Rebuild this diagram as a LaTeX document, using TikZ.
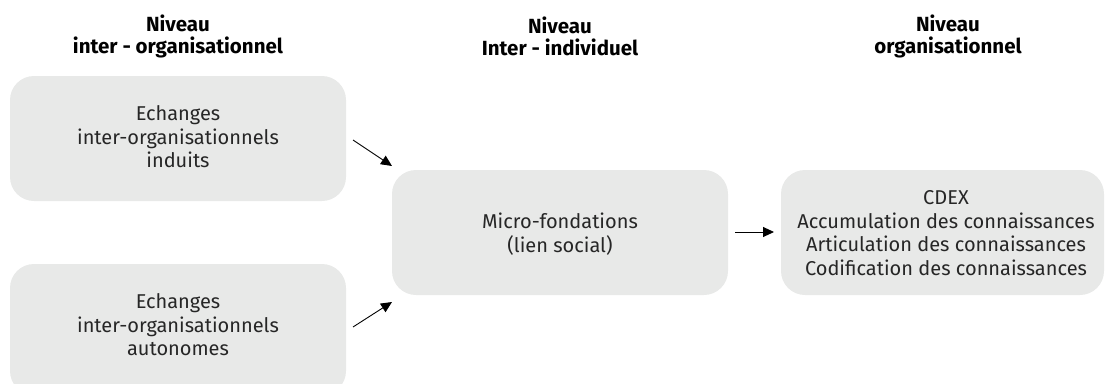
\documentclass[tikz,border=0pt]{standalone}
\usepackage{fontspec}
\setmainfont{Fira Sans}
\usetikzlibrary{arrows.meta}
\begin{document}
\begin{tikzpicture}[x=1pt,y=-1pt,
  box/.style={fill=boxgray, rounded corners=24pt, draw=none},
  txt/.style={align=center, font=\fontsize{20}{23.5}\selectfont, text=black!85},
  head/.style={align=center, font=\bfseries\fontsize{20.5}{22}\selectfont, text=black},
  arr/.style={-{Triangle[length=11pt,width=10pt]}, line width=0.9pt}]
\definecolor{boxgray}{HTML}{E8E9E8}
\useasboundingbox (0,0) rectangle (1105,383);
\fill[box] (10,76) rectangle (346,201);
\fill[box] (10,264) rectangle (346,395);
\fill[box] (392,170) rectangle (728,295);
\fill[box] (781,170) rectangle (1104,295);
\node[head] (h1) at (178,36) {Niveau\\inter - organisationnel};
\node[head] (h2) at (560,36) {Niveau\\Inter - individuel};
\node[head] (h3) at (948,36) {Niveau\\organisationnel};
\node[txt] (b1) at (178,137) {Echanges\\inter-organisationnels\\induits};
\node[txt] (b2) at (178,325) {Echanges\\inter-organisationnels\\autonomes};
\node[txt] (b3) at (560,234) {Micro-fondations\\(lien social)};
\node[txt] (b4) at (946,233) {CDEX\\Accumulation des connaissances\\Articulation des connaissances\\Codification des connaissances};
\coordinate (a1s) at (353,140); \coordinate (a1e) at (392,166);
\coordinate (a2s) at (353,327); \coordinate (a2e) at (392,302);
\coordinate (a3s) at (735,232); \coordinate (a3e) at (774,232);
\draw[arr] (a1s) -- (a1e);
\draw[arr] (a2s) -- (a2e);
\draw[arr] (a3s) -- (a3e);
\end{tikzpicture}
\end{document}
